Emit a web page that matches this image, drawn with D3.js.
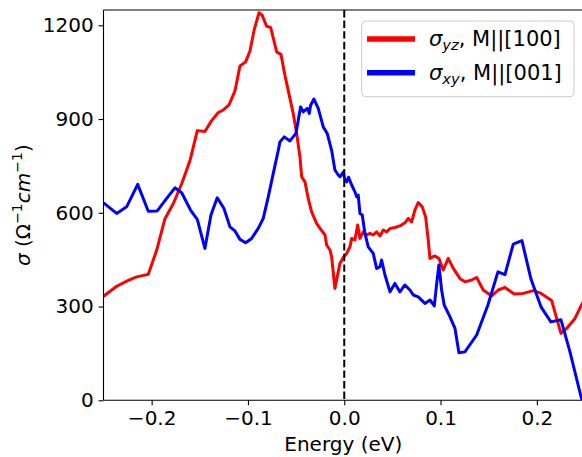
<!DOCTYPE html>
<html>
<head>
<meta charset="utf-8">
<script src="https://cdn.jsdelivr.net/npm/d3@7"></script>
<style>
  html, body { margin: 0; padding: 0; background: #fff; }
  svg { display: block; font-family: "DejaVu Sans", sans-serif; }
</style>
</head>
<body>
<svg id="chart" width="582" height="457"></svg>
<script>
// ---- data ----
const redEnergy = [-0.25,-0.2363,-0.2243,-0.2156,-0.2035,-0.1948,-0.1862,-0.1776,-0.1688,-0.1602,-0.1526,-0.1447,-0.1377,-0.1308,-0.1256,-0.1197,-0.1135,-0.1083,-0.1024,-0.0979,-0.0938,-0.0886,-0.0852,-0.0806,-0.0764,-0.0702,-0.0657,-0.0616,-0.0564,-0.0530,-0.0494,-0.0460,-0.0442,-0.0408,-0.0374,-0.0339,-0.0287,-0.0252,-0.0200,-0.0183,-0.0148,-0.0131,-0.0097,-0.0073,-0.0045,-0.0010,0.0025,0.0059,0.0077,0.0111,0.0139,0.0163,0.0197,0.0233,0.0267,0.0301,0.0336,0.0371,0.0405,0.0440,0.0475,0.0526,0.0578,0.0630,0.0665,0.0700,0.0734,0.0768,0.0810,0.0845,0.0872,0.0890,0.0942,0.0983,0.1028,0.1080,0.1132,0.1201,0.1253,0.1323,0.1375,0.1443,0.1531,0.1599,0.1669,0.1765,0.1859,0.1963,0.2032,0.2154,0.2250,0.2309,0.2396,0.2468,0.2500];
const redSigma = [333,365,384,395,403,480,581,629,693,767,863,860,895,921,929,945,990,1070,1083,1118,1182,1240,1232,1197,1193,1115,1107,1040,966,918,854,779,715,699,646,603,566,550,529,497,481,459,358,395,438,457,470,491,518,513,561,518,539,529,534,529,539,526,545,539,550,553,558,568,582,571,609,633,619,587,513,454,462,454,417,454,422,390,379,385,393,353,334,353,361,340,342,351,344,319,214,230,262,308,322];
const blueEnergy = [-0.25,-0.2363,-0.2260,-0.2145,-0.2035,-0.1942,-0.1844,-0.1758,-0.1688,-0.1595,-0.1526,-0.1447,-0.1384,-0.1319,-0.1249,-0.1187,-0.1135,-0.1083,-0.1024,-0.0962,-0.0893,-0.0841,-0.0789,-0.0737,-0.0685,-0.0668,-0.0623,-0.0564,-0.0502,-0.0453,-0.0426,-0.0384,-0.0363,-0.0349,-0.0315,-0.0270,-0.0218,-0.0177,-0.0131,-0.0097,-0.0062,-0.0045,-0.0010,0.0007,0.0025,0.0044,0.0077,0.0111,0.0129,0.0145,0.0163,0.0187,0.0215,0.0249,0.0301,0.0336,0.0371,0.0388,0.0423,0.0475,0.0526,0.0578,0.0630,0.0682,0.0717,0.0768,0.0838,0.0890,0.0935,0.0960,0.0983,0.1011,0.1038,0.1098,0.1150,0.1191,0.1253,0.1375,0.1492,0.1596,0.1669,0.1755,0.1845,0.1939,0.2043,0.2146,0.2250,0.2344,0.2463,0.2480];
const blueSigma = [632,598,619,691,605,606,646,680,664,608,579,486,593,648,614,555,542,515,504,518,550,582,651,726,800,827,843,830,854,939,923,934,918,944,964,934,875,854,800,737,721,715,730,705,699,714,689,667,651,657,598,593,534,491,470,422,427,449,401,347,374,347,369,353,337,331,310,321,302,374,433,353,305,267,230,152,155,209,305,411,402,500,511,388,299,251,258,155,6,0];
const xTicks = [-0.2, -0.1, 0.0, 0.1, 0.2];
const yTicks = [0, 300, 600, 900, 1200];
const seriesColors = ["#ff0000", "#0000ff"];
const xDomain = [-0.25, 0.25];
const yDomain = [0, 1249];

// ---- layout ----
const svg = d3.select("#chart");
const pLeft = 103.5, pRight = 585, pTop = 10, pBottom = 400.3;
const x = d3.scaleLinear().domain(xDomain).range([pLeft, pRight]);
const y = d3.scaleLinear().domain(yDomain).range([pBottom, pTop]);

svg.append("rect").attr("width", 582).attr("height", 457).attr("fill", "#fff");

svg.append("defs").append("clipPath").attr("id", "clip")
  .append("rect").attr("x", pLeft).attr("y", pTop).attr("width", pRight - pLeft).attr("height", pBottom - pTop);

const plot = svg.append("g").attr("clip-path", "url(#clip)");

const line = d3.line().x(d => x(d[0])).y(d => y(d[1]));
const redData = redEnergy.map((e, i) => [e, redSigma[i]]);
const blueData = blueEnergy.map((e, i) => [e, blueSigma[i]]);

plot.append("path").datum(redData).attr("d", line)
  .attr("fill", "none").attr("stroke", seriesColors[0]).attr("stroke-width", 3).attr("stroke-linejoin", "round");
plot.append("path").datum(blueData).attr("d", line)
  .attr("fill", "none").attr("stroke", seriesColors[1]).attr("stroke-width", 3).attr("stroke-linejoin", "round");

// dashed zero line
plot.append("line")
  .attr("x1", x(0)).attr("x2", x(0)).attr("y1", y(yDomain[1])).attr("y2", y(0))
  .attr("stroke", "#000").attr("stroke-width", 2).attr("stroke-dasharray", "7.4,3.2");

// axes
const fontSize = 20;
const xAxis = d3.axisBottom(x).tickValues(xTicks).tickSize(4.9).tickPadding(4.9)
  .tickFormat(d => d3.format(".1f")(d).replace("-", "\u2212"));
const yAxis = d3.axisLeft(y).tickValues(yTicks).tickSize(4.9).tickPadding(4.9)
  .tickFormat(d3.format("d"));

const gx = svg.append("g").attr("transform", `translate(0,${pBottom})`).call(xAxis);
const gy = svg.append("g").attr("transform", `translate(${pLeft},0)`).call(yAxis);
[gx, gy].forEach(g => {
  g.select(".domain").remove();
  g.selectAll(".tick line").attr("stroke", "#000").attr("stroke-width", 1.1);
  g.selectAll(".tick text").attr("font-size", fontSize).attr("fill", "#000")
    .attr("font-family", "DejaVu Sans");
});
gx.selectAll(".tick text").attr("dy", "0.76em");

// spines
const spines = svg.append("g").attr("stroke", "#000").attr("stroke-width", 1.1).attr("fill", "none");
spines.append("line").attr("x1", pLeft).attr("x2", pLeft).attr("y1", pTop).attr("y2", pBottom);
spines.append("line").attr("x1", pLeft).attr("x2", pRight).attr("y1", pTop).attr("y2", pTop);
spines.append("line").attr("x1", pLeft).attr("x2", pRight).attr("y1", pBottom).attr("y2", pBottom);
spines.append("line").attr("x1", pRight).attr("x2", pRight).attr("y1", pTop).attr("y2", pBottom);

// axis labels
svg.append("text").attr("x", (pLeft + pRight) / 2 - 1).attr("y", 451)
  .attr("text-anchor", "middle").attr("font-size", fontSize).text("Energy (eV)");

const ylab = svg.append("text")
  .attr("transform", `translate(30,${(pTop + pBottom) / 2}) rotate(-90)`)
  .attr("text-anchor", "middle").attr("font-size", fontSize);
ylab.append("tspan").attr("font-style", "italic").text("σ");
ylab.append("tspan").text(" (Ω");
ylab.append("tspan").attr("font-size", 14).attr("dy", -8).text("\u22121");
ylab.append("tspan").attr("font-style", "italic").attr("dy", 8).text("cm");
ylab.append("tspan").attr("font-size", 14).attr("dy", -8).text("\u22121");
ylab.append("tspan").attr("dy", 8).text(")");

// legend
const legend = svg.append("g");
legend.append("rect").attr("x", 361.7).attr("y", 21).attr("width", 212.3).attr("height", 75.7)
  .attr("rx", 4).attr("fill", "#fff").attr("fill-opacity", 0.8)
  .attr("stroke", "#cccccc").attr("stroke-width", 1);
const legendItems = [
  { sub: "yz", rest: ", M||[100]", color: seriesColors[0], yLine: 39, yText: 46.3 },
  { sub: "xy", rest: ", M||[001]", color: seriesColors[1], yLine: 72.7, yText: 80 }
];
legendItems.forEach(it => {
  legend.append("line").attr("x1", 367).attr("x2", 415).attr("y1", it.yLine).attr("y2", it.yLine)
    .attr("stroke", it.color).attr("stroke-width", 5.5);
  const t = legend.append("text").attr("x", 429).attr("y", it.yText).attr("font-size", 21);
  t.append("tspan").attr("font-style", "italic").text("σ");
  t.append("tspan").attr("font-style", "italic").attr("font-size", 14.7).attr("dy", 4).text(it.sub);
  t.append("tspan").attr("dy", -4).text(it.rest);
});
</script>
</body>
</html>
